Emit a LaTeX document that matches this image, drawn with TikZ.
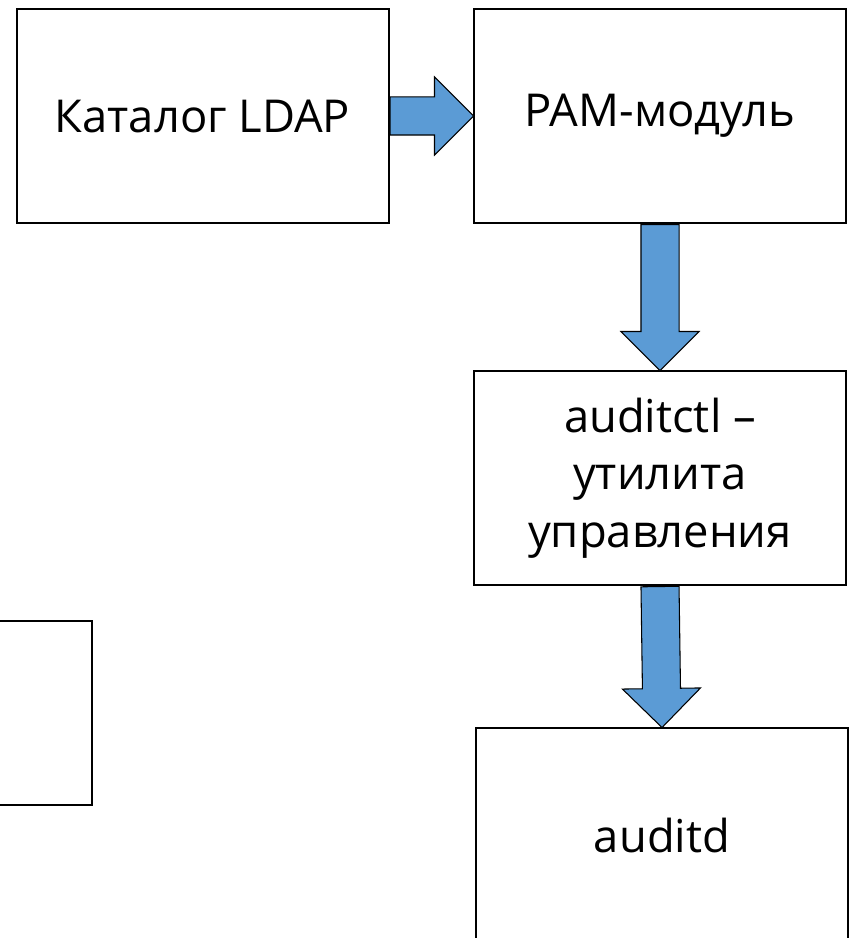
\documentclass[tikz,border=0pt]{standalone}
\usepackage{fontspec}
\setmainfont{Open Sans}
\usetikzlibrary{shapes.arrows, calc}
\definecolor{AB}{RGB}{91,155,213}

\begin{document}
\begin{tikzpicture}[x=0.75pt, y=-0.75pt,
  block/.style={draw=black, line width=1.5pt, minimum width=279pt,
                minimum height=160.5pt, align=center, inner sep=0pt,
                font=\fontsize{34}{43}\selectfont},
  fat/.style={single arrow, draw=black, fill=AB, line width=0.8pt,
              single arrow head extend=15pt,
              inner xsep=0pt, inner ysep=13.875pt, font=\tiny}
]
\clip (0,0) rectangle (849,938);

% Boxes
\node[block] (ldap)   at (202.5,116) {Каталог LDAP};
\node[block] (pam)    at (660,116)   {PAM-модуль};
\node[block] (ctl)    at (660,478)   {auditctl –\\утилита\\управления};
\node[block] (auditd) at (662,835)   {auditd};
\node[block, minimum height=138pt] (side) at (-94,713) {};

% Arrows
\foreach \a/\b in {ldap.east/pam.west, pam.south/ctl.north, ctl.south/auditd.north}
  \path let \p1=(\a), \p2=(\b),
            \n1={veclen(\x2-\x1,\y2-\y1)}, \n2={atan2(\y2-\y1,\x2-\x1)} in
    node[fat, minimum height=\n1, rotate=\n2, anchor=tail] at (\p1) {};
\end{tikzpicture}
\end{document}
